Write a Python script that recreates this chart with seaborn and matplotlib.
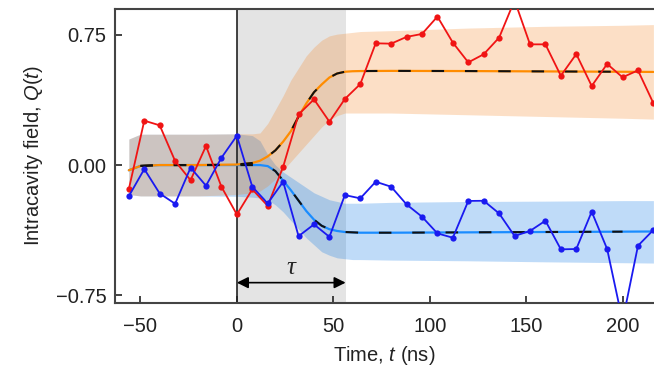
import matplotlib
matplotlib.use('Agg')
import matplotlib.pyplot as plt
import seaborn as sns
import pandas as pd

# measured quadrature Q(t), one point every 8 ns
time_ns = list(range(-56, 217, 8))
q_red = [-0.138, 0.256, 0.229, 0.023, -0.087, 0.110, -0.125, -0.285,
         -0.140, -0.235, -0.010, 0.292, 0.379, 0.250, 0.381, 0.467,
         0.702, 0.700, 0.739, 0.756, 0.856, 0.706, 0.592, 0.639,
         0.735, 0.950, 0.696, 0.696, 0.515, 0.640, 0.456, 0.583,
         0.506, 0.546, 0.356]
q_blue = [-0.179, -0.023, -0.164, -0.223, -0.015, -0.119, 0.042, 0.169,
          -0.125, -0.221, -0.096, -0.410, -0.342, -0.414, -0.173, -0.192,
          -0.096, -0.125, -0.227, -0.298, -0.394, -0.419, -0.207, -0.206,
          -0.279, -0.409, -0.380, -0.321, -0.486, -0.484, -0.269, -0.484,
          -0.900, -0.465, -0.374]

# mean trajectories and their spread
fit_t = [-56, -50, -40, -20, 0, 8, 12, 16, 20, 24, 28, 32, 36, 40, 44,
         48, 52, 56, 60, 64, 80, 120, 160, 200, 216]
fit_orange = [-0.03, -0.005, 0, 0, 0.003, 0.012, 0.025, 0.05, 0.085, 0.135,
              0.195, 0.28, 0.355, 0.42, 0.465, 0.505, 0.528, 0.538, 0.541,
              0.542, 0.543, 0.542, 0.54, 0.538, 0.537]
fit_blue = [-0.03, -0.005, 0, 0, 0, 0, 0, -0.006, -0.035, -0.09, -0.145,
            -0.205, -0.265, -0.315, -0.35, -0.37, -0.38, -0.386, -0.388,
            -0.39, -0.39, -0.388, -0.386, -0.384, -0.383]
orange_hi = [0.15, 0.178, 0.178, 0.178, 0.18, 0.18, 0.185, 0.24, 0.32, 0.40,
             0.49, 0.56, 0.63, 0.68, 0.72, 0.745, 0.755, 0.76, 0.765, 0.77,
             0.775, 0.79, 0.80, 0.806, 0.81]
orange_lo = [-0.17, -0.178, -0.178, -0.178, -0.17, -0.16, -0.15, -0.12, -0.08,
             -0.03, 0.02, 0.07, 0.12, 0.17, 0.22, 0.26, 0.285, 0.30, 0.30,
             0.30, 0.30, 0.29, 0.28, 0.27, 0.265]
blue_hi = [0.15, 0.178, 0.178, 0.178, 0.18, 0.17, 0.14, 0.06, 0.0, -0.04,
           -0.07, -0.10, -0.13, -0.16, -0.18, -0.20, -0.21, -0.22, -0.22,
           -0.22, -0.215, -0.21, -0.208, -0.205, -0.205]
blue_lo = [-0.17, -0.178, -0.178, -0.178, -0.18, -0.185, -0.19, -0.20, -0.23,
           -0.27, -0.32, -0.37, -0.42, -0.46, -0.50, -0.52, -0.535, -0.54,
           -0.545, -0.545, -0.548, -0.552, -0.558, -0.563, -0.565]
tau_ns = 56.4
theory_range = (-50, 200)

xticks = [-50, 0, 50, 100, 150, 200]
yticks = [-0.75, 0.0, 0.75]
ytick_labels = ['\u22120.75', '0.00', '0.75']

data = pd.DataFrame({'t': time_ns, 'red': q_red, 'blue': q_blue})
fit = pd.DataFrame({'t': fit_t, 'orange': fit_orange, 'blue': fit_blue})
theory = fit[(fit['t'] >= theory_range[0]) & (fit['t'] <= theory_range[1])]

sns.set_style('ticks')
plt.rcParams['font.family'] = ['Liberation Sans', 'DejaVu Sans']
plt.rcParams['mathtext.fontset'] = 'custom'
plt.rcParams['mathtext.it'] = 'Liberation Sans:italic'
plt.rcParams['mathtext.rm'] = 'Liberation Sans'

fig = plt.figure(figsize=(6.54, 3.74), dpi=100)
ax = fig.add_axes([0.1758, 0.19, 0.8242, 0.786])

# shaded switching window and t = 0 marker
ax.axvspan(0, tau_ns, color='#e4e4e4', zorder=0, lw=0)
ax.axvline(0, color='#222222', lw=1.2, zorder=1.5)

ax.fill_between(fit['t'], blue_lo, blue_hi, color='#0072e6', alpha=0.25, lw=0, zorder=1)
ax.fill_between(fit['t'], orange_lo, orange_hi, color='#f5821e', alpha=0.25, lw=0, zorder=1.1)

sns.lineplot(data=fit, x='t', y='blue', color='#1a8cff', lw=1.6, ax=ax, zorder=2)
sns.lineplot(data=fit, x='t', y='orange', color='#ff8c00', lw=1.6, ax=ax, zorder=2)
for col in ['orange', 'blue']:
    ax.plot(theory['t'], theory[col], color='#111111', lw=1.5,
            linestyle=(0, (6, 10)), zorder=2.2)

sns.lineplot(data=data, x='t', y='red', color='#f01414', lw=1.3, marker='o',
             markersize=4.5, markeredgewidth=0, ax=ax, zorder=3)
sns.lineplot(data=data, x='t', y='blue', color='#1a1af0', lw=1.3, marker='o',
             markersize=4.5, markeredgewidth=0, ax=ax, zorder=3)

ax.annotate('', xy=(tau_ns, -0.678), xytext=(0, -0.678),
            arrowprops=dict(arrowstyle='<|-|>', color='black', lw=1.2,
                            mutation_scale=17, shrinkA=0, shrinkB=0), zorder=4)
ax.text(tau_ns / 2, -0.595, '\u03c4', family='Liberation Serif', style='italic',
        fontsize=18, ha='center', va='center', zorder=4)

ax.set_xlim(-63.2, 216.3)
ax.set_ylim(-0.795, 0.90)
ax.set_xticks(xticks)
ax.set_yticks(yticks)
ax.set_yticklabels(ytick_labels)
ax.tick_params(direction='in', length=5, width=1.2, labelsize=14.5,
               colors='#222222', pad=6)
ax.tick_params(axis='x', pad=10)
ax.set_xlabel('Time, $t$ (ns)', fontsize=14.5, color='#222222', labelpad=6)
ax.set_ylabel('Intracavity field, $Q$($t$)', fontsize=14.5, color='#222222', labelpad=8)
for side in ['left', 'top', 'bottom']:
    ax.spines[side].set_color('#444444')
    ax.spines[side].set_linewidth(1.5)
ax.spines['right'].set_visible(False)

fig.savefig('out.png', dpi=100)
